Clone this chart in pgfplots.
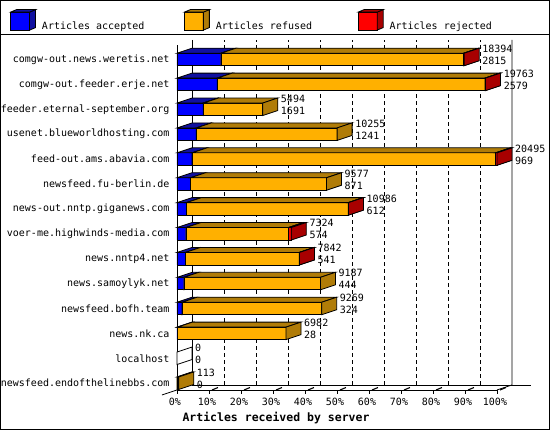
\documentclass[border=0pt]{standalone}
\usepackage{pgfplots}
\pgfplotsset{compat=1.18}
\usepackage{pgfplotstable}
\usepackage{fontspec}
\newfontfamily\mono{DejaVu Sans Mono}

\definecolor{accF}{HTML}{0000FF}
\definecolor{accD}{HTML}{1010A0}
\definecolor{refF}{HTML}{FFB000}
\definecolor{refD}{HTML}{B07C08}
\definecolor{rejF}{HTML}{FF0000}
\definecolor{rejD}{HTML}{A80000}

% articles per server: accepted, refused, rejected, total (row 13 = top)
\pgfplotstableread{
row acc ref rej total
13 2815 15539 40 18394
12 2579 17154 30 19763
11 1691 3803 0 5494
10 1241 9014 0 10255
9 969 19446 80 20495
8 871 8706 0 9577
7 612 10354 20 10986
6 574 6570 180 7324
5 541 7286 15 7842
4 444 8743 0 9187
3 324 8945 0 9269
2 28 6954 0 6982
1 0 0 0 0
0 0 113 0 113
}\data

% top and side faces of one bar segment (\segv = its length in pt), ending at the data point
\pgfdeclareplotmark{seg3d}{%
  \pgfmathsetmacro\segL{\segv}%
  \ifdim\segL pt>0.01pt
    \pgfmathsetmacro\segB{15-\segL}%
    \pgfpathmoveto{\pgfqpoint{-\segL pt}{6.25pt}}%
    \pgfpathlineto{\pgfqpoint{0pt}{6.25pt}}%
    \pgfpathlineto{\pgfqpoint{15pt}{11.25pt}}%
    \pgfpathlineto{\pgfqpoint{\segB pt}{11.25pt}}%
    \pgfpathclose
    \pgfusepathqfillstroke
    \pgfpathmoveto{\pgfqpoint{0pt}{-6.25pt}}%
    \pgfpathlineto{\pgfqpoint{15pt}{-1.25pt}}%
    \pgfpathlineto{\pgfqpoint{15pt}{11.25pt}}%
    \pgfpathlineto{\pgfqpoint{0pt}{6.25pt}}%
    \pgfpathclose
    \pgfusepathqfillstroke
  \fi}
% same, but an empty bar gets a white side face
\pgfdeclareplotmark{seg3dw}{%
  \pgfmathsetmacro\segL{\segv}%
  \ifdim\segL pt>0.01pt
    \pgfuseplotmark{seg3d}%
  \else
    \pgfsetfillcolor{white}%
    \pgfpathmoveto{\pgfqpoint{0pt}{-6.25pt}}%
    \pgfpathlineto{\pgfqpoint{15pt}{-1.25pt}}%
    \pgfpathlineto{\pgfqpoint{15pt}{11.25pt}}%
    \pgfpathlineto{\pgfqpoint{0pt}{6.25pt}}%
    \pgfpathclose
    \pgfusepathqfillstroke
  \fi}

\pgfplotsset{
  cube/.style 2 args={legend image code/.code={%
    \draw[fill=#1,line width=0.8pt] (0pt,-4pt) rectangle (19pt,14pt);
    \draw[fill=#2,line width=0.8pt] (19pt,-4pt) -- (25pt,-1.5pt) -- (25pt,16.5pt) -- (19pt,14pt) -- cycle;
    \draw[fill=#2,line width=0.8pt] (0pt,14pt) -- (6pt,16.5pt) -- (25pt,16.5pt) -- (19pt,14pt) -- cycle;}},
  seg/.style={xbar stacked, bar width=12.5pt, bar shift=0pt, draw=black, line width=0.8pt},
  faces/.style={only marks, forget plot, mark options={fill=#1, draw=black, line width=0.8pt}},
  numlabel/.style={only marks, mark=none, forget plot, point meta=explicit symbolic,
    nodes near coords,
    every node near coord/.append style={font=\mono\fontsize{10}{12}\selectfont,
      anchor=west, inner sep=0pt, xshift=18pt, yshift=#1, text=black}},
}

\begin{document}
\begin{tikzpicture}
\begin{axis}[
  scale only axis, width=320pt, height=345pt,
  xmin=0, xmax=20495, ymin=-0.273, ymax=13.582,
  clip=false, clip marker paths=true, reverse stacked plots=false,
  axis lines=left, axis line style={-, line width=0.8pt},
  scaled x ticks=false,
  xtick={0,2049.5,4099,6148.5,8198,10247.5,12297,14346.5,16396,18445.5,20495},
  xticklabels={0\%,10\%,20\%,30\%,40\%,50\%,60\%,70\%,80\%,90\%,100\%},
  ytick={0,...,13},
  yticklabels={newsfeed.endofthelinebbs.com, localhost, news.nk.ca,
    newsfeed.bofh.team, news.samoylyk.net, news.nntp4.net,
    voer-me.highwinds-media.com, news-out.nntp.giganews.com,
    newsfeed.fu-berlin.de, feed-out.ams.abavia.com,
    usenet.blueworldhosting.com, feeder.eternal-september.org,
    comgw-out.feeder.erje.net, comgw-out.news.weretis.net},
  tick label style={font=\mono\fontsize{10}{12}\selectfont},
  xticklabel style={xshift=-2pt, yshift=-1pt},
  ytick style={draw=none},
  xtick style={line width=0.8pt, black},
  tick align=outside, major tick length=4pt,
  xlabel={Articles received by server},
  xlabel style={font=\mono\bfseries\fontsize{11.5}{13}\selectfont,
    at={(axis description cs:0,0)}, anchor=west, yshift=-28pt, xshift=2pt},
  legend columns=3,
  legend style={draw=none, fill=none, at={(axis description cs:0,1)},
    anchor=north west, xshift=-167pt, yshift=36pt, inner sep=0pt,
    font=\mono\fontsize{10}{12}\selectfont, cells={anchor=west},
    /tikz/every odd column/.append style={column sep=4pt}},
]
% back wall, floor and grid
\pgfplotsinvokeforeach{2049.5,4099,6148.5,8198,10247.5,12297,14346.5,16396,18445.5}{
  \draw[dash pattern=on 4pt off 3pt, line width=0.8pt]
    ([shift={(15pt,5pt)}]axis cs:#1,-0.273) -- ([shift={(15pt,5pt)}]axis cs:#1,13.582);}
\pgfplotsinvokeforeach{2049.5,4099,6148.5,8198,10247.5,12297,14346.5,16396,18445.5,20495}{
  \draw[line width=1.1pt]
    ([shift={(3pt,0pt)}]axis cs:#1,-0.273) -- ([shift={(9pt,2.5pt)}]axis cs:#1,-0.273);}
\draw[line width=0.8pt] ([shift={(15pt,5pt)}]axis cs:0,13.582) -- ([shift={(15pt,5pt)}]axis cs:0,-0.273)
  -- ([shift={(354pt,5pt)}]axis cs:0,-0.273);
\draw[line width=0.8pt] ([shift={(15pt,5pt)}]axis cs:20495,13.582) -- ([shift={(15pt,5pt)}]axis cs:20495,-0.273)
  -- (axis cs:20495,-0.273);
\draw[line width=0.8pt] ([shift={(-15pt,-5pt)}]axis cs:0,-0.273) -- (axis cs:0,-0.273);
\coordinate (O) at (axis cs:0,-0.273);

\addplot[seg, fill=accF, cube={accF}{accD}] table[x=acc, y=row]{\data};
\addlegendentry{\makebox[140pt][l]{Articles accepted}}
\addplot[faces=accD, mark=seg3dw, visualization depends on={\thisrow{acc}*320/20495\as\segv}]
  table[x=acc, y=row]{\data};

\addplot[seg, fill=refF, cube={refF}{refD}] table[x=ref, y=row]{\data};
\addlegendentry{\makebox[140pt][l]{Articles refused}}
\addplot[faces=refD, mark=seg3d, visualization depends on={\thisrow{ref}*320/20495\as\segv}]
  table[x expr=\thisrow{acc}+\thisrow{ref}, y=row]{\data};

\addplot[seg, fill=rejF, cube={rejF}{rejD}] table[x=rej, y=row]{\data};
\addlegendentry{\makebox[140pt][l]{Articles rejected}}
\addplot[faces=rejD, mark=seg3d, visualization depends on={\thisrow{rej}*320/20495\as\segv}]
  table[x=total, y=row]{\data};

% total and accepted beside each bar
\addplot[numlabel=10.5pt] table[x=total, y=row, meta=total]{\data};
\addplot[numlabel=-1.5pt] table[x=total, y=row, meta=acc]{\data};
\end{axis}
\draw[line width=1pt] ([shift={(-176.5pt,-39.5pt)}]O) rectangle ([shift={(372.5pt,389.5pt)}]O);
\draw[line width=1pt] ([shift={(-177pt,355pt)}]O) -- ([shift={(373pt,355pt)}]O);
\pgfresetboundingbox
\path[use as bounding box] ([shift={(-177pt,-40pt)}]O) rectangle ([shift={(373pt,390pt)}]O);
\end{tikzpicture}
\end{document}
